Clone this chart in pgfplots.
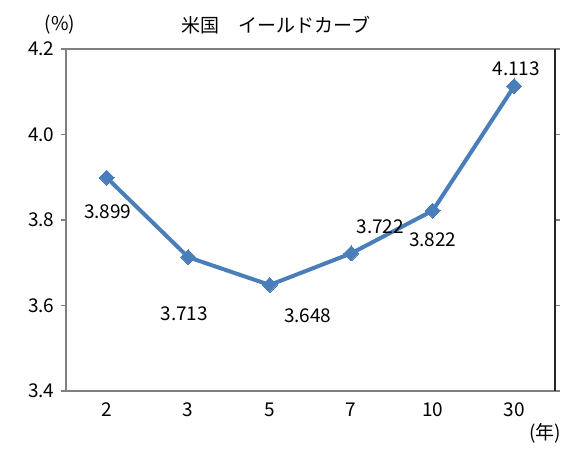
\documentclass[border=0pt]{standalone}
\usepackage{pgfplots}
\pgfplotsset{compat=1.18}
\usepackage{fontspec}
\setmainfont{Noto Sans CJK JP}
\definecolor{lineblue}{HTML}{4A7EBB}
\definecolor{framegray}{HTML}{7F7F7F}
\begin{document}
\fontsize{19}{22}\selectfont
\begin{tikzpicture}
\path[use as bounding box] (-66pt,-62pt) rectangle (505pt,391pt);
\begin{axis}[
  scale only axis, width=489pt, height=342pt,
  at={(0,0)}, anchor=south west,
  xmin=-0.5, xmax=5.5, ymin=3.4, ymax=4.2,
  xtick=data, xticklabels={2,3,5,7,10,30},
  ytick={3.4,3.6,3.8,4.0,4.2},
  yticklabel style={/pgf/number format/fixed, /pgf/number format/fixed zerofill, /pgf/number format/precision=1},
  /pgf/number format/assume math mode=true,
  tick label style={font=\fontsize{19}{22}\selectfont},
  xtick style={draw=none},
  ytick style={framegray, line width=1.2pt},
  tick align=outside, major tick length=5pt,
  axis line style={framegray, line width=1.5pt},
  clip=false,
]
\addplot[color=lineblue, line width=4pt, mark=square*, mark size=5.3pt,
  mark options={rotate=45, line width=0pt}] coordinates {
(0, 3.899)
(1, 3.713)
(2, 3.648)
(3, 3.722)
(4, 3.822)
(5, 4.113)
};
\draw[black!85, line width=1.2pt] (rel axis cs:1,0) -- (rel axis cs:1,1);
\node at (axis cs:0,3.899) [xshift=1pt, yshift=-34pt] {3.899};
\node at (axis cs:1,3.713) [xshift=-4pt, yshift=-57pt] {3.713};
\node at (axis cs:2,3.648) [xshift=38pt, yshift=-31pt] {3.648};
\node at (axis cs:3,3.722) [xshift=29pt, yshift=27pt] {3.722};
\node at (axis cs:4,3.822) [xshift=0pt, yshift=-29pt] {3.822};
\node at (axis cs:5,4.113) [xshift=2pt, yshift=17pt] {4.113};
\end{axis}
\node at (-6pt,366pt) {(\%)};
\node at (210pt,366pt) {米国　イールドカーブ};
\node at (479pt,-42pt) {(年)};
\end{tikzpicture}
\end{document}
